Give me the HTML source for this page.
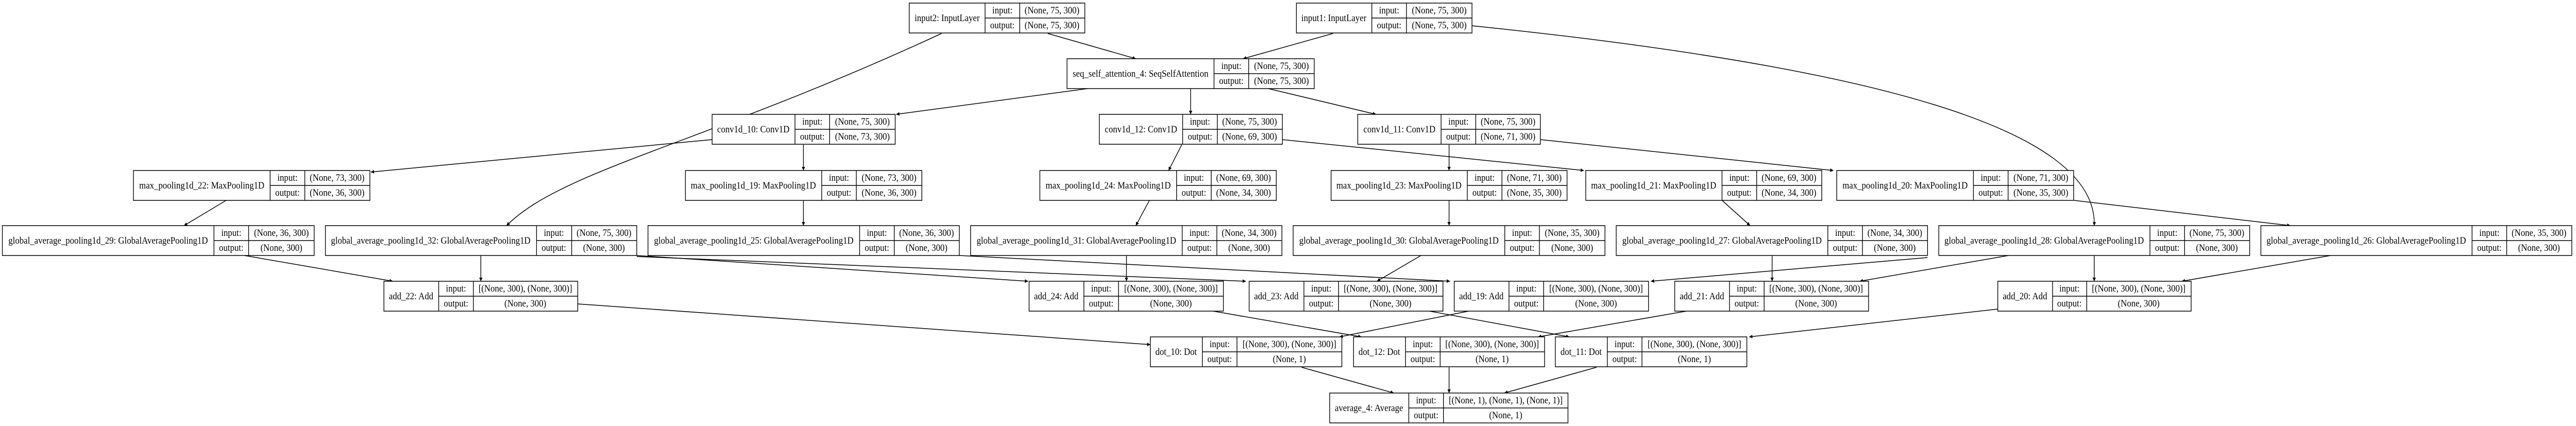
<!DOCTYPE html>
<html><head><meta charset="utf-8"><style>
html,body{margin:0;padding:0;background:#fff;width:100%;height:100%;overflow:hidden;}
svg{display:block;width:100vw;height:100vh;}
text{font-family:"Liberation Serif",serif;font-size:18.5px;fill:#000;}
.n rect,.n line{stroke:#000;stroke-width:1.5;fill:none;}
.e{stroke:#000;stroke-width:1.5;fill:none;marker-end:url(#a);}
</style></head><body>
<svg viewBox="0 0 5502 827" preserveAspectRatio="none" xmlns="http://www.w3.org/2000/svg">
<defs><marker id="a" viewBox="0 0 10 10" refX="10" refY="5" markerWidth="7" markerHeight="7" markerUnits="userSpaceOnUse" orient="auto"><path d="M0,0L10,5L0,10z" fill="#000"/></marker></defs>
<g id="edges">
<path class="e" d="M2238,65L2426,114"/>
<path class="e" d="M2847,65L2655,114"/>
<path class="e" d="M2011,65C1500,280 1200,330 1082,438"/>
<path class="e" d="M3144,50C4000,130 4480,250 4473,438"/>
<path class="e" d="M2323,172L1914,222"/>
<path class="e" d="M2543,172L2543,222"/>
<path class="e" d="M2709,172L2939,222"/>
<path class="e" d="M1521,271L792,334"/>
<path class="e" d="M1716,281L1716,331"/>
<path class="e" d="M2524,281L2496,331"/>
<path class="e" d="M2739,271L3383,331"/>
<path class="e" d="M3095,281L3095,331"/>
<path class="e" d="M3290,271L3916,331"/>
<path class="e" d="M483,389L393,438"/>
<path class="e" d="M1716,389L1716,438"/>
<path class="e" d="M2455,389L2426,438"/>
<path class="e" d="M3095,389L3095,438"/>
<path class="e" d="M3678,389L3738,438"/>
<path class="e" d="M4430,389L4892,438"/>
<path class="e" d="M522,496L839,546"/>
<path class="e" d="M1027,496L1027,546"/>
<path class="e" d="M1360,496L2196,546"/>
<path class="e" d="M1360,498L2661,546"/>
<path class="e" d="M2049,496L3097,546"/>
<path class="e" d="M3035,496L2941,546"/>
<path class="e" d="M2406,496L2406,546"/>
<path class="e" d="M4117,500L3526,546"/>
<path class="e" d="M3785,496L3785,546"/>
<path class="e" d="M4290,496L3972,546"/>
<path class="e" d="M4473,496L4473,546"/>
<path class="e" d="M4978,496L4660,546"/>
<path class="e" d="M1234,590L2457,669"/>
<path class="e" d="M2591,604L2908,654"/>
<path class="e" d="M3137,604L2861,654"/>
<path class="e" d="M3053,604L3352,654"/>
<path class="e" d="M3602,604L3285,654"/>
<path class="e" d="M4267,600L3736,654"/>
<path class="e" d="M2780,713L2977,763"/>
<path class="e" d="M3095,713L3095,763"/>
<path class="e" d="M3410,713L3213,763"/>
</g>
<g class="n" text-anchor="middle">
<rect x="1942" y="6" width="375" height="58" style="fill:#fff"/><line x1="2104" y1="6" x2="2104" y2="64"/><line x1="2178" y1="6" x2="2178" y2="64"/><line x1="2104" y1="35" x2="2317" y2="35"/>
<text x="2023" y="41">input2: InputLayer</text><text x="2141" y="26">input:</text><text x="2141" y="55">output:</text><text x="2247" y="26">(None, 75, 300)</text><text x="2247" y="55">(None, 75, 300)</text>
<rect x="2769" y="6" width="375" height="58" style="fill:#fff"/><line x1="2930" y1="6" x2="2930" y2="64"/><line x1="3004" y1="6" x2="3004" y2="64"/><line x1="2930" y1="35" x2="3144" y2="35"/>
<text x="2849" y="41">input1: InputLayer</text><text x="2967" y="26">input:</text><text x="2967" y="55">output:</text><text x="3074" y="26">(None, 75, 300)</text><text x="3074" y="55">(None, 75, 300)</text>
<rect x="2279" y="114" width="528" height="58" style="fill:#fff"/><line x1="2593" y1="114" x2="2593" y2="172"/><line x1="2667" y1="114" x2="2667" y2="172"/><line x1="2593" y1="143" x2="2807" y2="143"/>
<text x="2436" y="149">seq_self_attention_4: SeqSelfAttention</text><text x="2630" y="134">input:</text><text x="2630" y="163">output:</text><text x="2737" y="134">(None, 75, 300)</text><text x="2737" y="163">(None, 75, 300)</text>
<rect x="1521" y="222" width="391" height="58" style="fill:#fff"/><line x1="1698" y1="222" x2="1698" y2="280"/><line x1="1772" y1="222" x2="1772" y2="280"/><line x1="1698" y1="251" x2="1912" y2="251"/>
<text x="1609" y="257">conv1d_10: Conv1D</text><text x="1735" y="242">input:</text><text x="1735" y="271">output:</text><text x="1842" y="242">(None, 75, 300)</text><text x="1842" y="271">(None, 73, 300)</text>
<rect x="2348" y="222" width="391" height="58" style="fill:#fff"/><line x1="2526" y1="222" x2="2526" y2="280"/><line x1="2600" y1="222" x2="2600" y2="280"/><line x1="2526" y1="251" x2="2739" y2="251"/>
<text x="2437" y="257">conv1d_12: Conv1D</text><text x="2563" y="242">input:</text><text x="2563" y="271">output:</text><text x="2669" y="242">(None, 75, 300)</text><text x="2669" y="271">(None, 69, 300)</text>
<rect x="2900" y="222" width="390" height="58" style="fill:#fff"/><line x1="3078" y1="222" x2="3078" y2="280"/><line x1="3152" y1="222" x2="3152" y2="280"/><line x1="3078" y1="251" x2="3290" y2="251"/>
<text x="2989" y="257">conv1d_11: Conv1D</text><text x="3115" y="242">input:</text><text x="3115" y="271">output:</text><text x="3221" y="242">(None, 75, 300)</text><text x="3221" y="271">(None, 71, 300)</text>
<rect x="285" y="331" width="505" height="58" style="fill:#fff"/><line x1="577" y1="331" x2="577" y2="389"/><line x1="651" y1="331" x2="651" y2="389"/><line x1="577" y1="360" x2="790" y2="360"/>
<text x="431" y="366">max_pooling1d_22: MaxPooling1D</text><text x="614" y="351">input:</text><text x="614" y="380">output:</text><text x="720" y="351">(None, 73, 300)</text><text x="720" y="380">(None, 36, 300)</text>
<rect x="1464" y="331" width="505" height="58" style="fill:#fff"/><line x1="1755" y1="331" x2="1755" y2="389"/><line x1="1829" y1="331" x2="1829" y2="389"/><line x1="1755" y1="360" x2="1969" y2="360"/>
<text x="1609" y="366">max_pooling1d_19: MaxPooling1D</text><text x="1792" y="351">input:</text><text x="1792" y="380">output:</text><text x="1899" y="351">(None, 73, 300)</text><text x="1899" y="380">(None, 36, 300)</text>
<rect x="2221" y="331" width="505" height="58" style="fill:#fff"/><line x1="2513" y1="331" x2="2513" y2="389"/><line x1="2587" y1="331" x2="2587" y2="389"/><line x1="2513" y1="360" x2="2726" y2="360"/>
<text x="2367" y="366">max_pooling1d_24: MaxPooling1D</text><text x="2550" y="351">input:</text><text x="2550" y="380">output:</text><text x="2656" y="351">(None, 69, 300)</text><text x="2656" y="380">(None, 34, 300)</text>
<rect x="2843" y="331" width="504" height="58" style="fill:#fff"/><line x1="3134" y1="331" x2="3134" y2="389"/><line x1="3208" y1="331" x2="3208" y2="389"/><line x1="3134" y1="360" x2="3347" y2="360"/>
<text x="2988" y="366">max_pooling1d_23: MaxPooling1D</text><text x="3171" y="351">input:</text><text x="3171" y="380">output:</text><text x="3277" y="351">(None, 71, 300)</text><text x="3277" y="380">(None, 35, 300)</text>
<rect x="3387" y="331" width="504" height="58" style="fill:#fff"/><line x1="3678" y1="331" x2="3678" y2="389"/><line x1="3752" y1="331" x2="3752" y2="389"/><line x1="3678" y1="360" x2="3891" y2="360"/>
<text x="3532" y="366">max_pooling1d_21: MaxPooling1D</text><text x="3715" y="351">input:</text><text x="3715" y="380">output:</text><text x="3821" y="351">(None, 69, 300)</text><text x="3821" y="380">(None, 34, 300)</text>
<rect x="3923" y="331" width="506" height="58" style="fill:#fff"/><line x1="4215" y1="331" x2="4215" y2="389"/><line x1="4289" y1="331" x2="4289" y2="389"/><line x1="4215" y1="360" x2="4429" y2="360"/>
<text x="4069" y="366">max_pooling1d_20: MaxPooling1D</text><text x="4252" y="351">input:</text><text x="4252" y="380">output:</text><text x="4359" y="351">(None, 71, 300)</text><text x="4359" y="380">(None, 35, 300)</text>
<rect x="5" y="438" width="666" height="58" style="fill:#fff"/><line x1="457" y1="438" x2="457" y2="496"/><line x1="531" y1="438" x2="531" y2="496"/><line x1="457" y1="467" x2="671" y2="467"/>
<text x="231" y="473">global_average_pooling1d_29: GlobalAveragePooling1D</text><text x="494" y="458">input:</text><text x="494" y="487">output:</text><text x="601" y="458">(None, 36, 300)</text><text x="601" y="487">(None, 300)</text>
<rect x="695" y="438" width="665" height="58" style="fill:#fff"/><line x1="1146" y1="438" x2="1146" y2="496"/><line x1="1221" y1="438" x2="1221" y2="496"/><line x1="1146" y1="467" x2="1360" y2="467"/>
<text x="920" y="473">global_average_pooling1d_32: GlobalAveragePooling1D</text><text x="1183" y="458">input:</text><text x="1183" y="487">output:</text><text x="1290" y="458">(None, 75, 300)</text><text x="1290" y="487">(None, 300)</text>
<rect x="1384" y="438" width="665" height="58" style="fill:#fff"/><line x1="1836" y1="438" x2="1836" y2="496"/><line x1="1910" y1="438" x2="1910" y2="496"/><line x1="1836" y1="467" x2="2049" y2="467"/>
<text x="1610" y="473">global_average_pooling1d_25: GlobalAveragePooling1D</text><text x="1873" y="458">input:</text><text x="1873" y="487">output:</text><text x="1979" y="458">(None, 36, 300)</text><text x="1979" y="487">(None, 300)</text>
<rect x="2073" y="438" width="665" height="58" style="fill:#fff"/><line x1="2525" y1="438" x2="2525" y2="496"/><line x1="2599" y1="438" x2="2599" y2="496"/><line x1="2525" y1="467" x2="2738" y2="467"/>
<text x="2299" y="473">global_average_pooling1d_31: GlobalAveragePooling1D</text><text x="2562" y="458">input:</text><text x="2562" y="487">output:</text><text x="2668" y="458">(None, 34, 300)</text><text x="2668" y="487">(None, 300)</text>
<rect x="2762" y="438" width="666" height="58" style="fill:#fff"/><line x1="3214" y1="438" x2="3214" y2="496"/><line x1="3288" y1="438" x2="3288" y2="496"/><line x1="3214" y1="467" x2="3428" y2="467"/>
<text x="2988" y="473">global_average_pooling1d_30: GlobalAveragePooling1D</text><text x="3251" y="458">input:</text><text x="3251" y="487">output:</text><text x="3358" y="458">(None, 35, 300)</text><text x="3358" y="487">(None, 300)</text>
<rect x="3452" y="438" width="665" height="58" style="fill:#fff"/><line x1="3904" y1="438" x2="3904" y2="496"/><line x1="3978" y1="438" x2="3978" y2="496"/><line x1="3904" y1="467" x2="4117" y2="467"/>
<text x="3678" y="473">global_average_pooling1d_27: GlobalAveragePooling1D</text><text x="3941" y="458">input:</text><text x="3941" y="487">output:</text><text x="4047" y="458">(None, 34, 300)</text><text x="4047" y="487">(None, 300)</text>
<rect x="4141" y="438" width="664" height="58" style="fill:#fff"/><line x1="4592" y1="438" x2="4592" y2="496"/><line x1="4666" y1="438" x2="4666" y2="496"/><line x1="4592" y1="467" x2="4805" y2="467"/>
<text x="4366" y="473">global_average_pooling1d_28: GlobalAveragePooling1D</text><text x="4629" y="458">input:</text><text x="4629" y="487">output:</text><text x="4735" y="458">(None, 75, 300)</text><text x="4735" y="487">(None, 300)</text>
<rect x="4829" y="438" width="664" height="58" style="fill:#fff"/><line x1="5280" y1="438" x2="5280" y2="496"/><line x1="5354" y1="438" x2="5354" y2="496"/><line x1="5280" y1="467" x2="5493" y2="467"/>
<text x="5054" y="473">global_average_pooling1d_26: GlobalAveragePooling1D</text><text x="5317" y="458">input:</text><text x="5317" y="487">output:</text><text x="5423" y="458">(None, 35, 300)</text><text x="5423" y="487">(None, 300)</text>
<rect x="820" y="546" width="414" height="58" style="fill:#fff"/><line x1="937" y1="546" x2="937" y2="604"/><line x1="1011" y1="546" x2="1011" y2="604"/><line x1="937" y1="575" x2="1234" y2="575"/>
<text x="878" y="581">add_22: Add</text><text x="974" y="566">input:</text><text x="974" y="595">output:</text><text x="1122" y="566">[(None, 300), (None, 300)]</text><text x="1122" y="595">(None, 300)</text>
<rect x="2198" y="546" width="415" height="58" style="fill:#fff"/><line x1="2315" y1="546" x2="2315" y2="604"/><line x1="2389" y1="546" x2="2389" y2="604"/><line x1="2315" y1="575" x2="2613" y2="575"/>
<text x="2256" y="581">add_24: Add</text><text x="2352" y="566">input:</text><text x="2352" y="595">output:</text><text x="2501" y="566">[(None, 300), (None, 300)]</text><text x="2501" y="595">(None, 300)</text>
<rect x="2668" y="546" width="414" height="58" style="fill:#fff"/><line x1="2785" y1="546" x2="2785" y2="604"/><line x1="2859" y1="546" x2="2859" y2="604"/><line x1="2785" y1="575" x2="3082" y2="575"/>
<text x="2726" y="581">add_23: Add</text><text x="2822" y="566">input:</text><text x="2822" y="595">output:</text><text x="2970" y="566">[(None, 300), (None, 300)]</text><text x="2970" y="595">(None, 300)</text>
<rect x="3106" y="546" width="415" height="58" style="fill:#fff"/><line x1="3223" y1="546" x2="3223" y2="604"/><line x1="3297" y1="546" x2="3297" y2="604"/><line x1="3223" y1="575" x2="3521" y2="575"/>
<text x="3164" y="581">add_19: Add</text><text x="3260" y="566">input:</text><text x="3260" y="595">output:</text><text x="3409" y="566">[(None, 300), (None, 300)]</text><text x="3409" y="595">(None, 300)</text>
<rect x="3577" y="546" width="414" height="58" style="fill:#fff"/><line x1="3694" y1="546" x2="3694" y2="604"/><line x1="3768" y1="546" x2="3768" y2="604"/><line x1="3694" y1="575" x2="3991" y2="575"/>
<text x="3635" y="581">add_21: Add</text><text x="3731" y="566">input:</text><text x="3731" y="595">output:</text><text x="3879" y="566">[(None, 300), (None, 300)]</text><text x="3879" y="595">(None, 300)</text>
<rect x="4267" y="546" width="413" height="58" style="fill:#fff"/><line x1="4384" y1="546" x2="4384" y2="604"/><line x1="4457" y1="546" x2="4457" y2="604"/><line x1="4384" y1="575" x2="4680" y2="575"/>
<text x="4325" y="581">add_20: Add</text><text x="4420" y="566">input:</text><text x="4420" y="595">output:</text><text x="4568" y="566">[(None, 300), (None, 300)]</text><text x="4568" y="595">(None, 300)</text>
<rect x="2457" y="654" width="409" height="58" style="fill:#fff"/><line x1="2568" y1="654" x2="2568" y2="712"/><line x1="2642" y1="654" x2="2642" y2="712"/><line x1="2568" y1="683" x2="2866" y2="683"/>
<text x="2512" y="689">dot_10: Dot</text><text x="2605" y="674">input:</text><text x="2605" y="703">output:</text><text x="2754" y="674">[(None, 300), (None, 300)]</text><text x="2754" y="703">(None, 1)</text>
<rect x="2891" y="654" width="408" height="58" style="fill:#fff"/><line x1="3002" y1="654" x2="3002" y2="712"/><line x1="3076" y1="654" x2="3076" y2="712"/><line x1="3002" y1="683" x2="3299" y2="683"/>
<text x="2946" y="689">dot_12: Dot</text><text x="3039" y="674">input:</text><text x="3039" y="703">output:</text><text x="3187" y="674">[(None, 300), (None, 300)]</text><text x="3187" y="703">(None, 1)</text>
<rect x="3322" y="654" width="409" height="58" style="fill:#fff"/><line x1="3433" y1="654" x2="3433" y2="712"/><line x1="3507" y1="654" x2="3507" y2="712"/><line x1="3433" y1="683" x2="3731" y2="683"/>
<text x="3377" y="689">dot_11: Dot</text><text x="3470" y="674">input:</text><text x="3470" y="703">output:</text><text x="3619" y="674">[(None, 300), (None, 300)]</text><text x="3619" y="703">(None, 1)</text>
<rect x="2840" y="763" width="509" height="58" style="fill:#fff"/><line x1="3009" y1="763" x2="3009" y2="821"/><line x1="3083" y1="763" x2="3083" y2="821"/><line x1="3009" y1="792" x2="3349" y2="792"/>
<text x="2924" y="798">average_4: Average</text><text x="3046" y="783">input:</text><text x="3046" y="812">output:</text><text x="3216" y="783">[(None, 1), (None, 1), (None, 1)]</text><text x="3216" y="812">(None, 1)</text>
</g>
</svg>
</body></html>
